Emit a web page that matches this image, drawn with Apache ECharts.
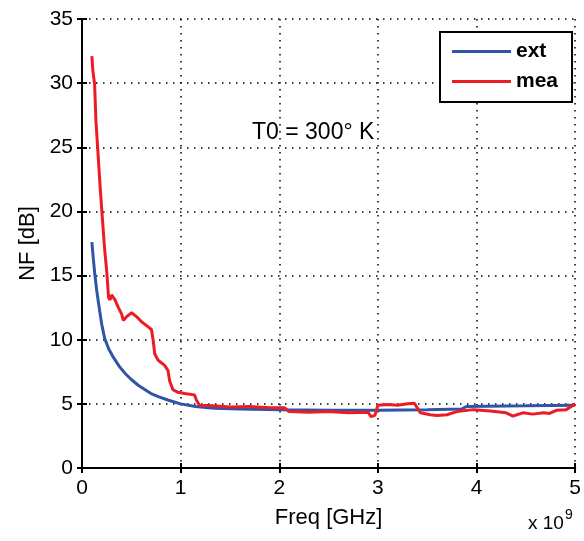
<!DOCTYPE html>
<html>
<head>
<meta charset="utf-8">
<script src="https://cdn.jsdelivr.net/npm/echarts@6/dist/echarts.min.js"></script>
<style>html,body{margin:0;padding:0;background:#fff;}#c{width:584px;height:541px;}</style>
</head>
<body>
<div id="c"></div>
<script>
// Frequency in units of 1e9 Hz
const extFreq = [0.1, 0.115, 0.13, 0.15, 0.18, 0.2, 0.23, 0.27, 0.32, 0.38, 0.44, 0.5, 0.57, 0.64, 0.7, 0.78, 0.87, 1.0, 1.15, 1.34, 1.6, 2.0, 2.5, 3.0, 3.5, 3.85, 3.9, 4.5, 5.0];
const extNF   = [17.6, 16.3, 15.1, 13.8, 12.2, 11.2, 10.1, 9.3, 8.6, 7.9, 7.35, 6.9, 6.45, 6.1, 5.8, 5.55, 5.3, 5.0, 4.8, 4.65, 4.6, 4.55, 4.5, 4.5, 4.55, 4.6, 4.8, 4.85, 4.9];

const meaFreq = [0.1, 0.11, 0.128, 0.141, 0.161, 0.184, 0.208, 0.228, 0.252, 0.269, 0.285, 0.3, 0.319, 0.335, 0.369, 0.402, 0.419, 0.453, 0.503, 0.553, 0.604, 0.671, 0.704, 0.721, 0.737, 0.772, 0.838, 0.872, 0.888, 0.922, 0.973, 1.04, 1.14, 1.16, 1.19, 1.34, 1.5, 1.7, 1.9, 2.05, 2.1, 2.3, 2.5, 2.7, 2.9, 2.93, 2.97, 3.0, 3.1, 3.2, 3.3, 3.37, 3.43, 3.53, 3.6, 3.7, 3.8, 3.97, 4.14, 4.3, 4.37, 4.47, 4.57, 4.68, 4.74, 4.81, 4.91, 4.98, 5.0];
const meaNF   = [32.1, 31.0, 29.9, 27.1, 24.7, 21.9, 19.3, 17.2, 15.2, 13.3, 13.1, 13.5, 13.6, 13.1, 12.5, 12.0, 11.5, 11.8, 12.1, 11.8, 11.4, 11.0, 10.8, 10.0, 8.9, 8.4, 8.0, 7.6, 6.8, 6.1, 5.9, 5.8, 5.7, 5.3, 4.9, 4.85, 4.75, 4.8, 4.7, 4.7, 4.4, 4.35, 4.4, 4.3, 4.35, 4.0, 4.1, 4.9, 4.95, 4.9, 5.0, 5.05, 4.3, 4.15, 4.1, 4.15, 4.4, 4.55, 4.45, 4.3, 4.05, 4.3, 4.2, 4.3, 4.25, 4.5, 4.55, 4.9, 5.0];

const xTicks = ['0', '1', '2', '3', '4', '5'];
const yTicks = ['0', '5', '10', '15', '20', '25', '30', '35'];
const seriesNames = ['ext', 'mea'];

const pair = (xs, ys) => xs.map((x, i) => [x, ys[i]]);
const FONT = '"Liberation Sans", Arial, sans-serif';
const dotted = { color: '#000', width: 1.5, type: [1.5, 5.5] };

const chart = echarts.init(document.getElementById('c'), null, { renderer: 'canvas' });
chart.setOption({
  animation: false,
  backgroundColor: '#fff',
  grid: { left: 82, right: 5, top: 19, bottom: 73, containLabel: false },
  xAxis: [{
    type: 'value', min: 0, max: 5, interval: 1, position: 'bottom',
    name: 'Freq [GHz]', nameLocation: 'middle', nameGap: 39,
    nameTextStyle: { fontFamily: FONT, fontSize: 22, color: '#000' },
    axisLine: { show: true, onZero: false, lineStyle: { color: '#000', width: 2 } },
    axisTick: { show: true, inside: true, length: 5, lineStyle: { color: '#000', width: 2 } },
    axisLabel: { margin: 10, fontFamily: FONT, fontSize: 21, color: '#000', formatter: (v) => xTicks[Math.round(v)] },
    splitLine: { show: true, lineStyle: dotted }
  }, {
    type: 'value', min: 0, max: 5, interval: 1, position: 'top',
    axisLine: { show: true, lineStyle: { color: '#000', width: 2 } },
    axisTick: { show: true, inside: true, length: 5, lineStyle: { color: '#000', width: 2 } },
    axisLabel: { show: false }, splitLine: { show: false }
  }],
  yAxis: [{
    type: 'value', min: 0, max: 35, interval: 5, position: 'left',
    name: 'NF [dB]', nameLocation: 'middle', nameGap: 43, nameRotate: 90,
    nameTextStyle: { fontFamily: FONT, fontSize: 22, color: '#000' },
    axisLine: { show: true, onZero: false, lineStyle: { color: '#000', width: 2 } },
    axisTick: { show: true, inside: true, length: 5, lineStyle: { color: '#000', width: 2 } },
    axisLabel: { margin: 9, fontFamily: FONT, fontSize: 21, color: '#000', formatter: (v) => yTicks[Math.round(v / 5)] },
    splitLine: { show: true, lineStyle: dotted }
  }, {
    type: 'value', min: 0, max: 35, interval: 5, position: 'right',
    axisLine: { show: true, lineStyle: { color: '#000', width: 2 } },
    axisTick: { show: true, inside: true, length: 5, lineStyle: { color: '#000', width: 2 } },
    axisLabel: { show: false }, splitLine: { show: false }
  }],
  legend: {
    left: 440, top: 32, orient: 'vertical',
    data: seriesNames.map(n => ({ name: n, icon: 'rect' })),
    itemWidth: 59, itemHeight: 3, itemGap: 9,
    padding: [9, 14, 10, 12],
    borderColor: '#000', borderWidth: 2, backgroundColor: '#fff',
    textStyle: { fontFamily: FONT, fontSize: 21, fontWeight: 'bold', color: '#000' }
  },
  graphic: [
    { type: 'text', left: 252, top: 121, style: { text: 'T0 = 300° K', font: '23px ' + FONT, fill: '#000' } },
    { type: 'text', left: 528, top: 508, style: {
      rich: { a: { font: '19px ' + FONT, fill: '#000', padding: [18, 0, 0, 0] }, b: { font: '14px ' + FONT, fill: '#000', padding: [0, 0, 0, 1] } },
      text: '{a|x 10}{b|9}' } }
  ],
  series: [{
    name: seriesNames[0], type: 'line', data: pair(extFreq, extNF),
    showSymbol: false, symbol: 'none', lineStyle: { color: '#2f55a8', width: 3 }, itemStyle: { color: '#2f55a8' }, z: 3
  }, {
    name: seriesNames[1], type: 'line', data: pair(meaFreq, meaNF),
    showSymbol: false, symbol: 'none', lineStyle: { color: '#ec1c24', width: 3 }, itemStyle: { color: '#ec1c24' }, z: 4
  }]
});
</script>
</body>
</html>
